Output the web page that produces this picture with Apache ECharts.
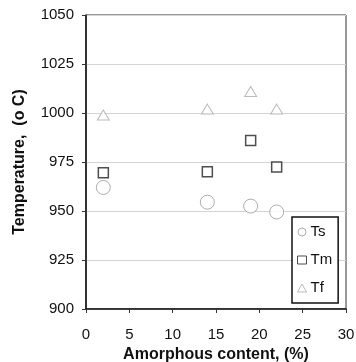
<!DOCTYPE html>
<html>
<head>
<meta charset="utf-8">
<script src="https://cdn.jsdelivr.net/npm/echarts@6/dist/echarts.min.js"></script>
<style>
  html, body { margin: 0; padding: 0; background: #fff; }
  #chart { width: 356px; height: 362px; }
</style>
</head>
<body>
<div id="chart"></div>
<script>
// values
const amorphous = [2, 14, 19, 22];
const ts = [962, 954.5, 952.5, 949.5];
const tm = [969.5, 970, 986, 972.5];
const tf = [999, 1002, 1011, 1002];

const pairs = (ys) => amorphous.map((x, i) => [x, ys[i]]);

const chart = echarts.init(document.getElementById('chart'));
const font = 'Liberation Sans, Arial, sans-serif';

chart.setOption({
  animation: false,
  grid: {
    left: 86, right: 10, top: 15, bottom: 53,
    outerBoundsMode: 'none', containLabel: false,
    show: true, borderColor: '#333', borderWidth: 1, backgroundColor: 'transparent'
  },
  legend: {
    orient: 'vertical',
    left: 292, top: 217,
    padding: [7, 6, 7, 5],
    itemGap: 12,
    itemWidth: 9, itemHeight: 8,
    backgroundColor: '#fff',
    borderColor: '#111', borderWidth: 1.5, borderRadius: 0,
    itemStyle: { color: '#fff', borderWidth: 1 },
    textStyle: { fontFamily: font, fontSize: 15, lineHeight: 16, color: '#111', padding: [0, 0, 0, -1] },
    data: ['Ts', 'Tm', 'Tf']
  },
  xAxis: {
    type: 'value', min: 0, max: 30, interval: 5,
    name: 'Amorphous content, (%)',
    nameLocation: 'middle', nameGap: 34,
    nameTextStyle: { fontFamily: font, fontSize: 16, fontWeight: 'bold', color: '#111' },
    axisLine: { lineStyle: { color: '#111', width: 1.5 } },
    axisTick: { show: true, length: 4, lineStyle: { color: '#333' } },
    axisLabel: { fontFamily: font, fontSize: 15, color: '#111', margin: 18 },
    splitLine: { show: false }
  },
  yAxis: {
    type: 'value', min: 900, max: 1050, interval: 25,
    name: 'Temperature,  (o C)',
    nameLocation: 'middle', nameGap: 58,
    nameTextStyle: { fontFamily: font, fontSize: 16, fontWeight: 'bold', color: '#111' },
    axisLine: { show: true, lineStyle: { color: '#111', width: 1.5 } },
    axisTick: { show: true, length: 4, lineStyle: { color: '#333' } },
    axisLabel: { fontFamily: font, fontSize: 15, color: '#111', margin: 12, formatter: (v) => String(v) },
    splitLine: { lineStyle: { color: '#d4d4d4', width: 1 } }
  },
  series: [
    {
      name: 'Ts', type: 'scatter', data: pairs(ts),
      symbol: 'circle', symbolSize: 14,
      itemStyle: { color: '#fff', borderColor: '#999', borderWidth: 1 }
    },
    {
      name: 'Tm', type: 'scatter', data: pairs(tm),
      symbol: 'rect', symbolSize: 10,
      itemStyle: { color: '#fff', borderColor: '#222', borderWidth: 1.5 }
    },
    {
      name: 'Tf', type: 'scatter', data: pairs(tf),
      symbol: 'triangle', symbolSize: [12, 10],
      itemStyle: { color: '#fff', borderColor: '#aaa', borderWidth: 1 }
    }
  ]
});
</script>
</body>
</html>
